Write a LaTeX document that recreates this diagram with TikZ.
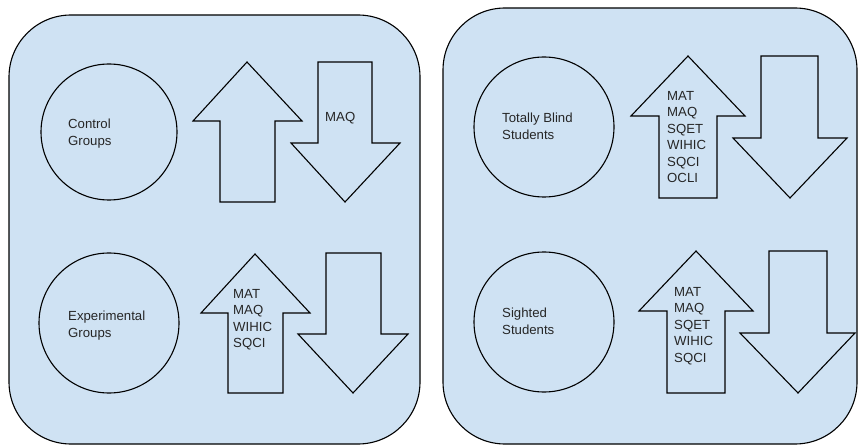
\documentclass[tikz,border=0pt]{standalone}
\usepackage{fontspec}
\setmainfont{Liberation Sans}
\definecolor{panelblue}{HTML}{CFE2F3}

% block arrows: #1 tip x, #2 tip y, #3 head base y, #4/#5 head left/right x,
% #6/#7 shaft left/right x, #8 flat end y
\newcommand{\blockarrow}[8]{%
  \draw[outline] (#1,#2) -- (#5,#3) -- (#7,#3) -- (#7,#8) -- (#6,#8)
    -- (#6,#3) -- (#4,#3) -- cycle;}

\begin{document}
\begin{tikzpicture}[x=1pt,y=-1pt,
  outline/.style={draw=black, line width=1.1pt, line join=miter},
  panel/.style={outline, fill=panelblue, rounded corners=62pt},
  groupcircle/.style={circle, draw=black, line width=1.1pt, inner sep=0pt},
  txt/.style={anchor=north west, inner sep=0pt, align=left,
    font=\fontsize{13.2}{16.5}\selectfont, text=black!85}]
\useasboundingbox (0,0) rectangle (859,446);

% two rounded panels
\path[panel] (9,15) rectangle (420,444);
\path[panel] (443,8) rectangle (857,444);

% left panel: groups
\node[groupcircle, minimum size=136pt] (ctrl) at (109,132) {};
\node[txt] (ctrltxt) at (68,119) {Control\\Groups};
\node[groupcircle, minimum size=140pt] (expt) at (109,323) {};
\node[txt] (expttxt) at (68,311) {Experimental\\Groups};

\blockarrow{247}{62}{121}{193}{302}{220}{275}{202}
\blockarrow{345}{202}{143}{291}{400}{318}{372}{62}
\node[txt] (maq) at (325,112) {MAQ};

\blockarrow{255}{254}{313}{201}{310}{228}{283}{393}
\blockarrow{353}{393}{334}{298}{408}{326}{381}{253}
\node[txt] (expttests) at (233,289) {MAT\\MAQ\\WIHIC\\SQCI};

% right panel: students
\node[groupcircle, minimum size=140pt] (blind) at (544,127) {};
\node[txt] (blindtxt) at (502,113) {Totally Blind\\Students};
\node[groupcircle, minimum size=140pt] (sighted) at (544,322) {};
\node[txt] (sightedtxt) at (502,308) {Sighted\\Students};

\blockarrow{688}{56}{116}{631}{745}{659}{717}{198}
\blockarrow{790}{198}{138}{733}{847}{761}{818}{56}
\node[txt] (blindtests) at (667,91) {MAT\\MAQ\\SQET\\WIHIC\\SQCI\\OCLI};

\blockarrow{696}{251}{311}{639}{753}{667}{725}{393}
\blockarrow{798}{393}{333}{740}{855}{769}{827}{251}
\node[txt] (sightedtests) at (674,287) {MAT\\MAQ\\SQET\\WIHIC\\SQCI};
\end{tikzpicture}
\end{document}
